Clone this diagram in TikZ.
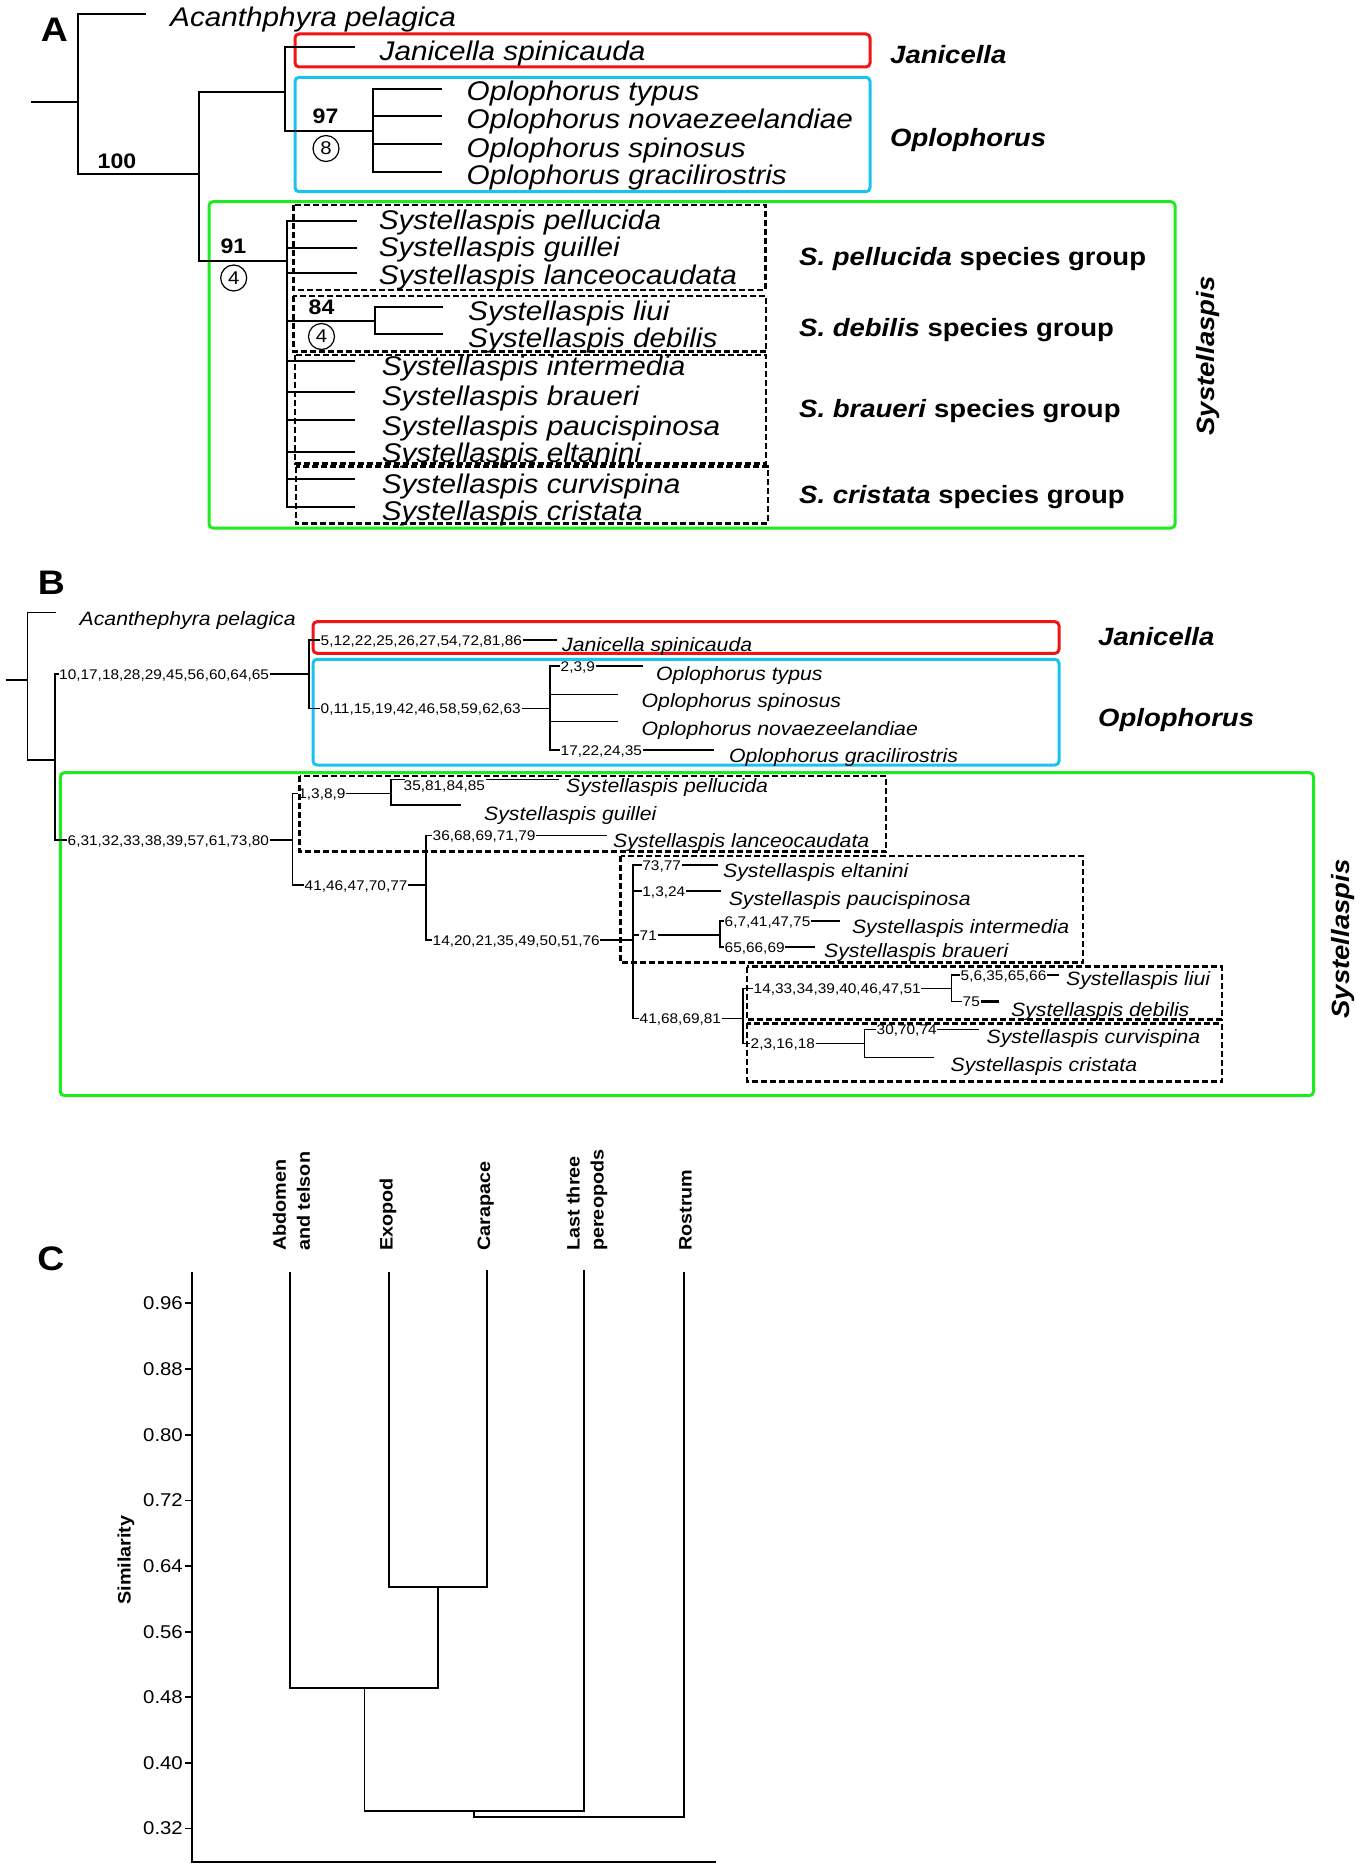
\documentclass[tikz,border=0pt]{standalone}
\usepackage{fontspec}
\setmainfont{Liberation Sans}[FakeStretch=1.1]
\definecolor{redbox}{RGB}{240,20,20}
\definecolor{bluebox}{RGB}{25,195,240}
\definecolor{greenbox}{RGB}{30,235,30}
\begin{document}
\begin{tikzpicture}[x=1pt,y=-1pt,
  treeA/.style={line width=2pt},
  treeB/.style={line width=1.5pt},
  thickB/.style={line width=2.8pt},
  treeC/.style={line width=1.8pt},
  taxA/.style={anchor=base west, inner sep=0pt, font=\fontsize{27}{30}\selectfont\itshape},
  taxB/.style={anchor=base west, inner sep=0pt, font=\fontsize{19.3}{22}\selectfont\itshape},
  chr/.style={anchor=west, inner sep=0.5pt, text height=1.2em, text depth=0.2em, font=\fontsize{14}{15}\selectfont},
  grp/.style={anchor=base west, inner sep=0pt, font=\fontsize{25}{28}\selectfont\bfseries\itshape},
  sgrp/.style={anchor=base west, inner sep=0pt, font=\fontsize{25}{28}\selectfont\bfseries},
  boot/.style={inner sep=0pt, font=\fontsize{21}{24}\selectfont\bfseries},
  circ/.style={circle, draw, line width=1.2pt, minimum size=26pt, inner sep=0pt, font=\fontsize{18.5}{20}\selectfont},
  panel/.style={inner sep=0pt, font=\fontsize{34}{36}\selectfont\bfseries},
  cbox/.style={rounded corners=4pt, line width=3pt},
  dbox/.style={dash pattern=on 6pt off 3pt, line width=2.5pt},
  tick/.style={anchor=east, inner sep=0pt, font=\fontsize{18.5}{20}\selectfont},
  clab/.style={inner sep=0pt, font=\fontsize{18}{24}\selectfont\bfseries},
]
\fill[white] (0,0) rectangle (1362,1867);
\useasboundingbox (0,0) rectangle (1362,1867);

%%%%%%%%%%%%%%%% PANEL A
\node[panel] (pA) at (54.5,29.5) {A};
% boxes
\draw[cbox, redbox] (295,34) rectangle (870,67);
\draw[cbox, bluebox] (295,77.3) rectangle (870,191.7);
\draw[cbox, greenbox] (209,201.7) rectangle (1175,528);
\draw[dbox] (293.4,205) rectangle (765.5,290);
\draw[dbox] (293.4,296) rectangle (766,351.7);
\draw[dbox] (295,355) rectangle (766,463.3);
\draw[dbox] (296,466.7) rectangle (768,523.3);
% tree
\coordinate (A0) at (31,102);
\coordinate (A1) at (78,102);
\draw[treeA] (A0) -- (A1);
\coordinate (Aac) at (146,14.5);
\draw[treeA] (A1) |- (Aac);
\coordinate (A100) at (199,174);
\draw[treeA] (A1) |- (A100);
\coordinate (AJO) at (285,92.3);
\draw[treeA] (A100) |- (AJO);
\coordinate (AJa) at (355,46.7);
\draw[treeA] (AJO) |- (AJa);
\coordinate (AOp) at (373,131);
\draw[treeA] (AJO) |- (AOp);
\coordinate (AO1) at (442,89.3);
\coordinate (AO2) at (442,116);
\coordinate (AO3) at (442,144);
\coordinate (AO4) at (442,172.3);
\foreach \c in {AO1,AO2,AO3,AO4} \draw[treeA] (AOp) |- (\c);
\coordinate (A91) at (287,260.7);
\draw[treeA] (A100) |- (A91);
\coordinate (AS1) at (357,220.7);
\coordinate (AS2) at (357,247.7);
\coordinate (AS3) at (357,273);
\coordinate (AS4) at (355,361);
\coordinate (AS5) at (355,392.3);
\coordinate (AS6) at (355,420);
\coordinate (AS7) at (355,451.5);
\coordinate (AS8) at (355,479.3);
\coordinate (AS9) at (355,507.3);
\foreach \c in {AS1,AS2,AS3,AS4,AS5,AS6,AS7,AS8,AS9} \draw[treeA] (A91) |- (\c);
\coordinate (A84) at (375,320.7);
\draw[treeA] (A91) |- (A84);
\coordinate (ASl) at (443,307.3);
\coordinate (ASd) at (443,334.3);
\draw[treeA] (A84) |- (ASl);
\draw[treeA] (A84) |- (ASd);
% support values
\node[boot] (b100) at (117,161) {100};
\node[boot] (b97) at (325.5,116.5) {97};
\node[circ] (k8) at (326,148.5) {8};
\node[boot] (b91) at (233.5,246.5) {91};
\node[circ] (k4a) at (233.7,278) {4};
\node[boot] (b84) at (321.5,307.5) {84};
\node[circ] (k4b) at (321.5,336.5) {4};
% taxa
\node[taxA] (tAac) at (170,27) {Acanthphyra pelagica};
\node[taxA] (tAja) at (379.5,61) {Janicella spinicauda};
\node[taxA] (tAo1) at (466.5,101) {Oplophorus typus};
\node[taxA] (tAo2) at (466.5,129) {Oplophorus novaezeelandiae};
\node[taxA] (tAo3) at (466.5,157.5) {Oplophorus spinosus};
\node[taxA] (tAo4) at (466.5,185) {Oplophorus gracilirostris};
\node[taxA] (tAs1) at (378.6,230) {Systellaspis pellucida};
\node[taxA] (tAs2) at (378.6,257) {Systellaspis guillei};
\node[taxA] (tAs3) at (378.6,285) {Systellaspis lanceocaudata};
\node[taxA] (tAsl) at (468,320) {Systellaspis liui};
\node[taxA] (tAsd) at (468,347.5) {Systellaspis debilis};
\node[taxA] (tAs4) at (381.6,375.5) {Systellaspis intermedia};
\node[taxA] (tAs5) at (381.6,405.5) {Systellaspis braueri};
\node[taxA] (tAs6) at (381.6,435.5) {Systellaspis paucispinosa};
\node[taxA] (tAs7) at (381.6,462) {Systellaspis eltanini};
\node[taxA] (tAs8) at (381.6,493) {Systellaspis curvispina};
\node[taxA] (tAs9) at (381.6,520) {Systellaspis cristata};
% group labels
\node[grp] (gAJ) at (890,63.5) {Janicella};
\node[grp] (gAO) at (890,146.5) {Oplophorus};
\node[sgrp] (gA1) at (799,265.5) {\textit{S. pellucida} species group};
\node[sgrp] (gA2) at (799,336) {\textit{S. debilis} species group};
\node[sgrp] (gA3) at (799,417) {\textit{S. braueri} species group};
\node[sgrp] (gA4) at (799,503.7) {\textit{S. cristata} species group};
\node[grp, rotate=90, anchor=center] (gAS) at (1208,356) {Systellaspis};

%%%%%%%%%%%%%%%% PANEL B
\node[panel] (pB) at (51.5,582.5) {B};
\draw[cbox, redbox] (313,621.7) rectangle (1059,653.3);
\draw[cbox, bluebox] (313,659.3) rectangle (1059,765);
\draw[cbox, greenbox] (60.3,772.7) rectangle (1313.5,1095.5);
\draw[dbox] (299.7,776) rectangle (886,851.7);
\draw[dbox] (620.7,856) rectangle (1083,962.7);
\draw[dbox] (747,966.7) rectangle (1221.8,1019.3);
\draw[dbox] (747,1023.3) rectangle (1221.8,1081.7);
% tree
\coordinate (B0) at (5.5,680);
\coordinate (B1) at (27.7,680);
\draw[treeB] (B0) -- (B1);
\coordinate (Bac) at (55.8,612.3);
\draw[treeB] (B1) |- (Bac);
\coordinate (B2) at (55,760);
\draw[treeB] (B1) |- (B2);
\node[chr] (c1) at (58.5,674) {10,17,18,28,29,45,56,60,64,65};
\draw[treeB] (B2) |- (c1.west);
\coordinate (BJO) at (309,674);
\draw[treeB] (c1.east) -- (BJO);
\node[chr] (c2) at (320,640) {5,12,22,25,26,27,54,72,81,86};
\draw[treeB] (BJO) |- (c2.west);
\coordinate (BJa) at (557,640);
\draw[treeB] (c2.east) -- (BJa);
\node[chr] (c3) at (320,708.3) {0,11,15,19,42,46,58,59,62,63};
\draw[treeB] (BJO) |- (c3.west);
\coordinate (BOp) at (550,708.3);
\draw[treeB] (c3.east) -- (BOp);
\node[chr] (c4) at (560,666) {2,3,9};
\draw[treeB] (BOp) |- (c4.west);
\coordinate (BO1) at (643,666);
\draw[treeB] (c4.east) -- (BO1);
\coordinate (BO2) at (617.6,694.3);
\draw[treeB] (BOp) |- (BO2);
\coordinate (BO3) at (617.6,721.7);
\draw[treeB] (BOp) |- (BO3);
\node[chr] (c5) at (560,750) {17,22,24,35};
\draw[treeB] (BOp) |- (c5.west);
\coordinate (BO4) at (713.7,750);
\draw[treeB] (c5.east) -- (BO4);
\node[chr] (c6) at (67,840) {6,31,32,33,38,39,57,61,73,80};
\draw[treeB] (B2) |- (c6.west);
\coordinate (BS) at (292.4,840);
\draw[treeB] (c6.east) -- (BS);
\node[chr] (c7) at (297.7,793.3) {1,3,8,9};
\draw[treeB] (BS) |- (c7.west);
\coordinate (Bpg) at (391,793.3);
\draw[treeB] (c7.east) -- (Bpg);
\coordinate (Bpe) at (559,779.5);
\node[chr] (c8) at (403,785.5) {35,81,84,85};
\draw[treeB] (Bpg) |- (c8.west |- Bpe) -- +(1.5,0);
\draw[treeB] (c8.east |- Bpe) -- (Bpe);
\coordinate (Bgu) at (461,805);
\draw[treeB] (Bpg) |- (Bgu);
\node[chr] (c9) at (304,885) {41,46,47,70,77};
\draw[treeB] (BS) |- (c9.west);
\coordinate (Bn1) at (426,885);
\draw[treeB] (c9.east) -- (Bn1);
\node[chr] (c10) at (432,835.5) {36,68,69,71,79};
\draw[treeB] (Bn1) |- (c10.west);
\coordinate (Bla) at (606.5,835.5);
\draw[treeB] (c10.east) -- (Bla);
\node[chr] (c11) at (432,940) {14,20,21,35,49,50,51,76};
\draw[treeB] (Bn1) |- (c11.west);
\coordinate (Bn2) at (633,940);
\draw[treeB] (c11.east) -- (Bn2);
\node[chr] (c12) at (641.7,865) {73,77};
\draw[treeB] (Bn2) |- (c12.west);
\coordinate (Bel) at (718,865);
\draw[thickB] (c12.east) -- (Bel);
\node[chr] (c13) at (641.7,891) {1,3,24};
\draw[treeB] (Bn2) |- (c13.west);
\coordinate (Bpa) at (721,891);
\draw[treeB] (c13.east) -- (Bpa);
\node[chr] (c14) at (639,935) {71};
\draw[treeB] (Bn2) |- (c14.west);
\coordinate (Bn3) at (720,935);
\draw[treeB] (c14.east) -- (Bn3);
\node[chr] (c15) at (724,921) {6,7,41,47,75};
\draw[treeB] (Bn3) |- (c15.west);
\coordinate (Bin) at (840,921);
\draw[treeB] (c15.east) -- (Bin);
\node[chr] (c16) at (724,947) {65,66,69};
\draw[treeB] (Bn3) |- (c16.west);
\coordinate (Bbr) at (815,947);
\draw[treeB] (c16.east) -- (Bbr);
\node[chr] (c17) at (639,1018.3) {41,68,69,81};
\draw[treeB] (Bn2) |- (c17.west);
\coordinate (Bn4) at (743,1018.3);
\draw[treeB] (c17.east) -- (Bn4);
\node[chr] (c18) at (753,988.3) {14,33,34,39,40,46,47,51};
\draw[treeB] (Bn4) |- (c18.west);
\coordinate (Bn5) at (951.5,988.3);
\draw[treeB] (c18.east) -- (Bn5);
\node[chr] (c19) at (960,975) {5,6,35,65,66};
\draw[treeB] (Bn5) |- (c19.west);
\coordinate (Bli) at (1059,975);
\draw[treeB] (c19.east) -- (Bli);
\node[chr] (c20) at (962,1001.7) {75};
\draw[treeB] (Bn5) |- (c20.west);
\coordinate (Bde) at (999,1001.7);
\draw[thickB] (c20.east) -- (Bde);
\node[chr] (c21) at (750,1043.3) {2,3,16,18};
\draw[treeB] (Bn4) |- (c21.west);
\coordinate (Bn6) at (864.5,1043.3);
\draw[treeB] (c21.east) -- (Bn6);
\node[chr] (c22) at (876,1029.3) {30,70,74};
\draw[treeB] (Bn6) |- (c22.west);
\coordinate (Bcu) at (979.3,1029.3);
\draw[treeB] (c22.east) -- (Bcu);
\coordinate (Bcr) at (934,1057.3);
\draw[treeB] (Bn6) |- (Bcr);
% taxa
\node[taxB] (tBac) at (79.5,625.7) {Acanthephyra pelagica};
\node[taxB] (tBja) at (562,651.7) {Janicella spinicauda};
\node[taxB] (tBo1) at (656,680) {Oplophorus typus};
\node[taxB] (tBo2) at (641.5,707.3) {Oplophorus spinosus};
\node[taxB] (tBo3) at (641.5,735) {Oplophorus novaezeelandiae};
\node[taxB] (tBo4) at (729,762.7) {Oplophorus gracilirostris};
\node[taxB] (tBs1) at (566,792.7) {Systellaspis pellucida};
\node[taxB] (tBs2) at (484,820) {Systellaspis guillei};
\node[taxB] (tBs3) at (613,847.5) {Systellaspis lanceocaudata};
\node[taxB] (tBs4) at (723,877) {Systellaspis eltanini};
\node[taxB] (tBs5) at (728.6,905) {Systellaspis paucispinosa};
\node[taxB] (tBs6) at (851.8,933.3) {Systellaspis intermedia};
\node[taxB] (tBs7) at (824,957) {Systellaspis braueri};
\node[taxB] (tBs8) at (1066,985) {Systellaspis liui};
\node[taxB] (tBs9) at (1011,1016) {Systellaspis debilis};
\node[taxB] (tBs10) at (986.5,1043) {Systellaspis curvispina};
\node[taxB] (tBs11) at (950.5,1071) {Systellaspis cristata};
% group labels
\node[grp] (gBJ) at (1098,645) {Janicella};
\node[grp] (gBO) at (1098,726.7) {Oplophorus};
\node[grp, rotate=90, anchor=center] (gBS) at (1343,939) {Systellaspis};

%%%%%%%%%%%%%%%% PANEL C
\node[panel] (pC) at (51,1258.5) {C};
\coordinate (cx0) at (192,1271.7);
\coordinate (cx1) at (192,1861.7);
\coordinate (cx2) at (715.5,1861.7);
\draw[treeC] (cx0) -- (cx1) -- (cx2);
\foreach \v/\yy [count=\i] in {0.96/1303.3,0.88/1369,0.80/1434.9,0.72/1500.5,0.64/1566.1,0.56/1631.7,0.48/1697.3,0.40/1762.9,0.32/1828.5}{
  \coordinate (tm\i) at (185,\yy);
  \draw[treeC] (tm\i) -- (192,\yy);
  \node[tick] (tk\i) at (183,\yy) {\v};
}
\node[clab, rotate=90] (sim) at (126,1560) {Similarity};
\coordinate (Ca) at (289.8,1271.7);
\coordinate (Ce) at (389,1271.7);
\coordinate (Cc) at (486.7,1270);
\coordinate (Cl) at (583.7,1270);
\coordinate (Cr) at (683.6,1271.7);
\coordinate (J1) at (437.8,1586.7);
\coordinate (J2) at (364.5,1688.3);
\coordinate (J3) at (474.3,1811);
\coordinate (J4) at (579,1816.7);
\draw[treeC] (Ce) |- (J1) -| (Cc);
\draw[treeC] (Ca) |- (J2) -| (J1);
\draw[treeC] (J2) |- (J3) -| (Cl);
\draw[treeC] (J3) |- (J4) -| (Cr);
\node[clab, rotate=90, anchor=west, align=left] (La) at (291.5,1251) {Abdomen\\and telson};
\node[clab, rotate=90, anchor=west] (Le) at (388,1251) {Exopod};
\node[clab, rotate=90, anchor=west] (Lc) at (485.6,1251) {Carapace};
\node[clab, rotate=90, anchor=west, align=left] (Ll) at (587,1251) {Last three\\pereopods};
\node[clab, rotate=90, anchor=west] (Lr) at (685.5,1251) {Rostrum};
\end{tikzpicture}
\end{document}
